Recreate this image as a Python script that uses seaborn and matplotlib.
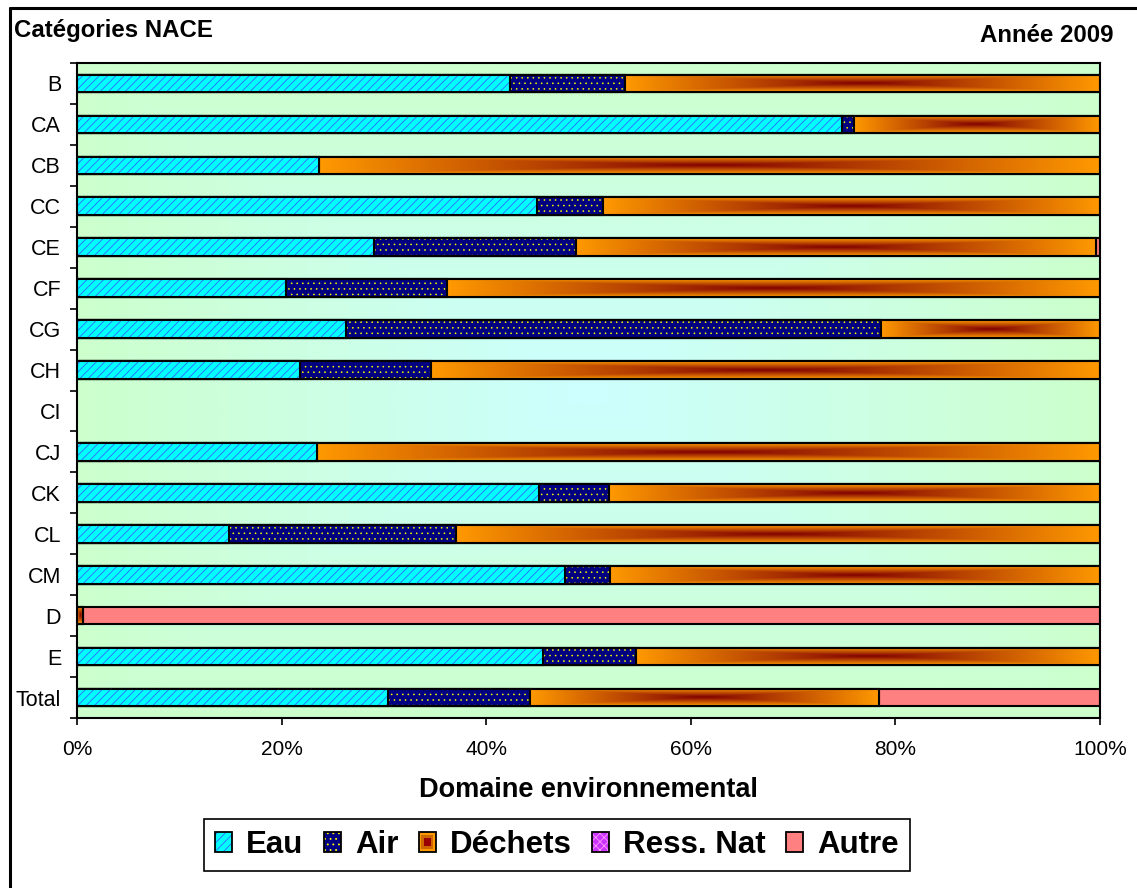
import numpy as np
import pandas as pd
import matplotlib
matplotlib.use("Agg")
import matplotlib.pyplot as plt
import matplotlib.colors as mcolors
import seaborn as sns
from matplotlib.patches import Rectangle, Patch
from matplotlib.legend_handler import HandlerBase
from matplotlib.lines import Line2D
from matplotlib.ticker import PercentFormatter, NullLocator

# ---- data: share of environmental spending by domain (%) per NACE category, 2009
categories = ["B", "CA", "CB", "CC", "CE", "CF", "CG", "CH", "CI",
              "CJ", "CK", "CL", "CM", "D", "E", "Total"]
eau = [42.3, 74.8, 23.7, 45.0, 29.0, 20.4, 26.3, 21.8, 0.0,
       23.5, 45.2, 14.9, 47.7, 0.0, 45.6, 30.4]
air = [11.3, 1.2, 0.0, 6.4, 19.8, 15.8, 52.3, 12.8, 0.0,
       0.0, 6.8, 22.1, 4.4, 0.0, 9.0, 13.9]
dechets = [46.4, 24.0, 76.3, 48.6, 50.8, 63.8, 21.4, 65.4, 0.0,
           76.5, 48.0, 63.0, 47.9, 0.6, 45.4, 34.1]
ress_nat = [0.0, 0.0, 0.0, 0.0, 0.0, 0.0, 0.0, 0.0, 0.0,
            0.0, 0.0, 0.0, 0.0, 0.0, 0.0, 0.0]
autre = [0.0, 0.0, 0.0, 0.0, 0.4, 0.0, 0.0, 0.0, 0.0,
         0.0, 0.0, 0.0, 0.0, 99.4, 0.0, 21.6]

series_names = ["Eau", "Air", "Déchets", "Ress. Nat", "Autre"]
x_ticks = [0, 20, 40, 60, 80, 100]

# ---- styling
EAU_FACE, EAU_HATCH = "#00FFFF", "#3366FF"
AIR_FACE, AIR_HATCH = "#000080", "#FFFF00"
DECH_EDGE, DECH_CORE = np.array([1.0, 0.6, 0.0]), np.array([0.5, 0.0, 0.0])
RESS_FACE, RESS_HATCH = "#CC33FF", "#FF99FF"
AUTRE_FACE = "#FF8080"
BAR_H = 0.43
EDGE_LW = 1.5

sns.set_theme(style="ticks")
plt.rcParams["font.family"] = ["Liberation Sans", "DejaVu Sans"]
plt.rcParams["text.color"] = "black"
plt.rcParams["axes.labelcolor"] = "black"
plt.rcParams["xtick.color"] = "black"
plt.rcParams["ytick.color"] = "black"

W, H = 1137, 888
fig = plt.figure(figsize=(W / 100, H / 100), dpi=100)
fig.patch.set_facecolor("white")
ax = fig.add_axes([77 / W, 1 - 718 / H, 1023 / W, 655 / H])

df = pd.DataFrame({"cat": categories, "Eau": eau, "Air": air,
                   "Déchets": dechets, "Ress. Nat": ress_nat, "Autre": autre})
cum = df[series_names].cumsum(axis=1)
for name in series_names:
    df["cum_" + name] = cum[name]


def set_hatch_color(patch, color):
    if hasattr(patch, "set_hatchcolor"):
        patch.set_hatchcolor(color)
    else:
        patch._hatch_color = mcolors.to_rgba(color)


def stacked_layer(name, face, z, hatch=None, hatch_color=None, hatch_lw=0.8):
    """Draw one layer of the stack as cumulative bars; later layers cover earlier ones."""
    plt.rcParams["hatch.linewidth"] = hatch_lw
    n_before = len(ax.patches)
    sns.barplot(data=df, x="cum_" + name, y="cat", order=categories, orient="y",
                width=BAR_H, errorbar=None, saturation=1, ax=ax,
                facecolor=face, edgecolor="black", linewidth=EDGE_LW, zorder=z)
    new = ax.patches[n_before:]
    for p in new:
        if p.get_width() <= 0:
            p.set_linewidth(0)
        if hatch:
            p.set_hatch(hatch)
            set_hatch_color(p, hatch_color)
            if hasattr(p, "set_hatch_linewidth"):
                p.set_hatch_linewidth(hatch_lw)
    return new


# background: light green edges fading to pale cyan at the centre
gu = np.linspace(-1, 1, 400)
gv = np.linspace(-1, 1, 300)
d = np.maximum(np.abs(gu)[None, :], np.abs(gv)[:, None])
bg = np.dstack([np.full_like(d, 0.8), np.ones_like(d), 1.0 - 0.2 * d])
ax.imshow(bg, extent=[0, 100, len(categories) - 0.5, -0.5], aspect="auto",
          interpolation="bilinear", zorder=0)

stacked_layer("Autre", AUTRE_FACE, 2)
stacked_layer("Ress. Nat", RESS_FACE, 2.2, "xxxx", RESS_HATCH)

# waste segments: rectangular centre gradient, dark red core to orange rim
su = np.linspace(-1, 1, 300)
sv = np.linspace(-1, 1, 40)
sd = np.maximum(np.abs(su)[None, :], np.abs(sv)[:, None])[..., None]
seg_img = DECH_CORE * (1 - sd) + DECH_EDGE * sd
for i, cat in enumerate(categories):
    x0 = df.loc[i, "cum_Air"]
    x1 = df.loc[i, "cum_Déchets"]
    if x1 - x0 > 0:
        ax.imshow(seg_img, extent=[x0, x1, i + BAR_H / 2, i - BAR_H / 2],
                  aspect="auto", interpolation="bilinear", zorder=2.8)
stacked_layer("Déchets", "none", 3)

stacked_layer("Air", AIR_FACE, 4, "...", AIR_HATCH, hatch_lw=0.4)
stacked_layer("Eau", EAU_FACE, 5, "////", EAU_HATCH, hatch_lw=0.6)

# ---- axes
ax.set_xlim(0, 100)
ax.set_ylim(len(categories) - 0.5, -0.5)
ax.set_xticks(x_ticks)
ax.xaxis.set_major_formatter(PercentFormatter(xmax=100, decimals=0))
ax.xaxis.set_minor_locator(NullLocator())
ax.set_yticks(np.arange(-0.5, len(categories)), minor=True)
ax.tick_params(axis="y", which="major", length=0, pad=11.5, labelsize=15.5,
               labelcolor="black")
ax.tick_params(axis="y", which="minor", length=5, width=1.2, color="black",
               direction="out")
ax.tick_params(axis="x", which="major", length=5, width=1.2, color="black",
               direction="out", pad=10.5, labelsize=15, labelcolor="black")
ax.set_ylabel("")
ax.set_xlabel("Domaine environnemental", fontsize=19.5, fontweight="bold",
              color="black", labelpad=13)
ax.grid(False)
for s in ax.spines.values():
    s.set_visible(True)
    s.set_color("black")
    s.set_linewidth(1.5)
    s.set_zorder(10)

# ---- titles
fig.text(14 / W, 1 - 37 / H, "Catégories NACE", fontsize=17.3,
         fontweight="bold", ha="left", va="baseline", color="black")
fig.text(1113 / W, 1 - 42 / H, "Année 2009", fontsize=17.3,
         fontweight="bold", ha="right", va="baseline", color="black")


# ---- legend
class SwatchHandler(HandlerBase):
    def __init__(self, face, hatch=None, hatch_color=None, cores=()):
        super().__init__()
        self.face, self.hatch, self.hatch_color, self.cores = face, hatch, hatch_color, cores

    def create_artists(self, legend, orig_handle, xdescent, ydescent,
                       width, height, fontsize, trans):
        x0, y0 = -xdescent, -ydescent
        box = Rectangle((x0, y0), width, height, facecolor=self.face,
                        edgecolor="black", linewidth=1.3, transform=trans)
        if self.hatch:
            box.set_hatch(self.hatch)
            set_hatch_color(box, self.hatch_color)
        arts = [box]
        for frac, col in self.cores:
            arts.append(Rectangle((x0 + width * (1 - frac) / 2, y0 + height * (1 - frac) / 2),
                                  width * frac, height * frac, facecolor=col,
                                  edgecolor="none", transform=trans))
        return arts


handles = [Patch(label=n) for n in series_names]
handler_map = {
    handles[0]: SwatchHandler(EAU_FACE, "////", EAU_HATCH),
    handles[1]: SwatchHandler(AIR_FACE, "...", AIR_HATCH),
    handles[2]: SwatchHandler("#FF9900", cores=((0.7, "#CC6600"), (0.4, "#990000"))),
    handles[3]: SwatchHandler(RESS_FACE, "xxxx", RESS_HATCH),
    handles[4]: SwatchHandler(AUTRE_FACE),
}
leg = fig.legend(handles, series_names, handler_map=handler_map, loc="center",
                 bbox_to_anchor=(557 / W, 1 - 845 / H), ncol=5, frameon=True,
                 fancybox=False, edgecolor="black", framealpha=1,
                 prop={"weight": "bold", "size": 22.5},
                 handlelength=0.55, handleheight=0.6, handletextpad=0.45,
                 columnspacing=0.65, borderpad=0.35)
leg.get_frame().set_linewidth(1.2)
for t in leg.get_texts():
    t.set_color("black")

# ---- outer chart border (left and top edges)
fig.add_artist(Line2D([9.5 / W, 9.5 / W], [0, 1 - 8 / H], transform=fig.transFigure,
                      color="black", linewidth=2.2))
fig.add_artist(Line2D([9.5 / W, 1], [1 - 8 / H, 1 - 8 / H], transform=fig.transFigure,
                      color="black", linewidth=2.2))

fig.savefig("out.png", dpi=100, facecolor="white")
